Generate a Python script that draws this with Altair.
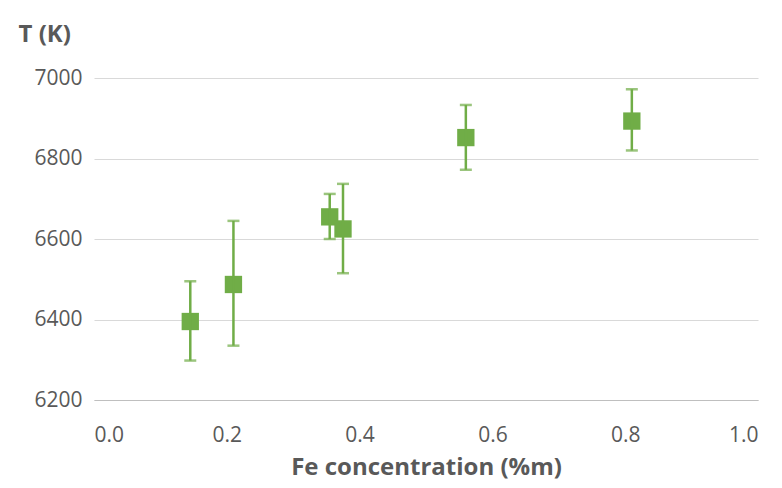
import altair as alt
import pandas as pd

fe = [0.145, 0.21, 0.355, 0.375, 0.56, 0.81]
temp = [6395, 6487, 6655, 6625, 6852, 6893]
t_low = [6298, 6335, 6600, 6515, 6772, 6820]
t_high = [6495, 6645, 6712, 6737, 6933, 6972]

df = pd.DataFrame({'fe': fe, 'T': temp, 'lo': t_low, 'hi': t_high})
green = '#70AD47'
gray = '#595959'

yscale = alt.Scale(domain=[6200, 7000], zero=False)
x = alt.X('fe:Q', scale=alt.Scale(domain=[0, 1]),
          axis=alt.Axis(values=[0, 0.2, 0.4, 0.6, 0.8, 1.0], format='.1f', grid=False,
                        title='Fe concentration (%m)', ticks=False, domainColor='#BFBFBF',
                        labelPadding=24, titlePadding=10))
y = alt.Y('T:Q', scale=yscale,
          axis=alt.Axis(values=[6200, 6400, 6600, 6800, 7000], format='d', grid=True, gridColor='#D9D9D9',
                        domain=False, ticks=False, labelPadding=12,
                        title='T (K)', titleAngle=0, titleAlign='left', titleBaseline='bottom',
                        titleX=-76, titleY=-32))

bars = alt.Chart(df).mark_rule(color=green, strokeWidth=2.5).encode(
    x=x, y=alt.Y('lo:Q', scale=yscale), y2='hi:Q')
caps_lo = alt.Chart(df).mark_tick(color=green, thickness=2.5, size=12, orient='horizontal').encode(
    x=x, y=alt.Y('lo:Q', scale=yscale))
caps_hi = alt.Chart(df).mark_tick(color=green, thickness=2.5, size=12, orient='horizontal').encode(
    x=x, y=alt.Y('hi:Q', scale=yscale))
pts = alt.Chart(df).mark_square(color=green, size=300, opacity=1).encode(x=x, y=y)

chart = (pts + bars + caps_lo + caps_hi).properties(
    width=664, height=322, padding={'left': 10, 'top': 14, 'right': 10, 'bottom': 5}
).configure_view(strokeWidth=0).configure_axis(
    labelFont='Open Sans', labelFontSize=21, labelColor=gray,
    titleFont='Open Sans', titleFontSize=24, titleColor=gray, titleFontWeight='bold'
)

chart.save("out.html", embed_options={"renderer": "svg", "actions": False})
